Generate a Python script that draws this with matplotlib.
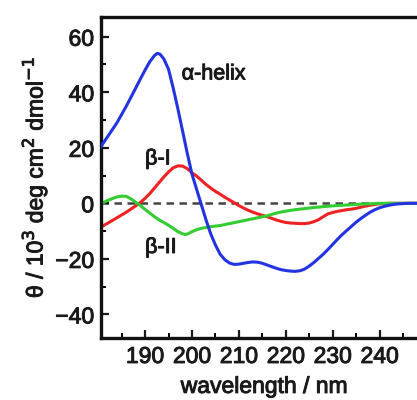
import matplotlib
matplotlib.use("Agg")
import matplotlib.pyplot as plt
import matplotlib.patheffects as pe
from matplotlib.ticker import MultipleLocator

plt.rcParams['font.family'] = ['Liberation Sans', 'DejaVu Sans']

# alpha-helix
wl_a = [180.6, 182, 184, 186, 188, 189, 190, 191, 192, 192.6, 193.2, 194, 195, 196, 197, 198, 199,
        200, 201, 202, 203, 204, 205, 206, 207, 208, 209, 210, 211, 212, 213, 214,
        215, 216, 217, 218, 219, 220, 221, 222, 223, 224, 225, 226, 227, 228, 229,
        230, 231, 232, 233, 234, 235, 236, 237, 238, 239, 240, 241, 242, 243, 244,
        246, 250]
cd_a = [20.5, 24, 29, 35, 41.5, 44.8, 48, 51, 53.2, 54, 53.7, 52, 48.3, 41.5, 34, 26, 18,
        10.5, 5, -0.5, -6, -11, -15, -18.3, -20.3, -21.5, -22, -21.9, -21.6, -21.3, -21.1, -21.2,
        -21.6, -22.2, -22.8, -23.4, -23.9, -24.2, -24.4, -24.5, -24.3, -23.7, -22.6, -21.3, -19.8, -18.3, -16.6,
        -14.8, -13, -11.3, -9.8, -8.3, -6.8, -5.5, -4.3, -3.2, -2.3, -1.6, -1.1, -0.7, -0.4, -0.2,
        0, 0]

# beta-I
wl_b1 = [180.6, 182, 184, 186, 188, 189, 190, 191, 192, 193, 194, 195, 196, 197, 198,
         199, 200, 201, 202, 203, 204, 205, 206, 207, 208, 209, 210, 211, 212, 213,
         214, 215, 216, 217, 218, 219, 220, 221, 222, 223, 224, 225, 226, 227, 228,
         229, 230, 231, 232, 233, 234, 235, 236, 237, 238, 239, 240, 242, 250]
cd_b1 = [-8.5, -7.2, -5.2, -3.2, -0.9, 0.3, 1.8, 3.5, 5.5, 7.5, 9.5, 11.3, 12.8, 13.5, 13.4,
         12.5, 11, 9.8, 8.3, 6.8, 5.5, 4.3, 3.3, 2.2, 1.2, 0.2, -0.8, -1.7, -2.5, -3.2,
         -3.8, -4.3, -4.8, -5.4, -6.0, -6.5, -6.9, -7.1, -7.2, -7.3, -7.3, -7.1, -6.6, -5.9, -4.8,
         -3.8, -3.3, -2.9, -2.6, -2.3, -2.1, -1.8, -1.4, -1.0, -0.7, -0.4, -0.2, 0, 0]

# beta-II
wl_b2 = [180.6, 181, 182, 183, 184, 185, 186, 187, 188, 189, 190, 191, 192, 193, 194,
         195, 196, 197, 198, 198.5, 199, 200, 201, 202, 203, 204, 206, 208, 210, 212,
         214, 216, 218, 220, 222, 224, 226, 228, 230, 232, 234, 236, 238, 240, 250]
cd_b2 = [-0.3, 0.2, 1.0, 1.7, 2.3, 2.6, 2.5, 1.6, 0.4, -0.8, -2.2, -3.5, -4.8, -6.0, -6.9,
         -7.9, -9.0, -10.2, -11.0, -11.2, -11.1, -10.2, -9.5, -9.0, -8.7, -8.4, -8.0, -7.3, -6.6, -5.9,
         -5.2, -4.5, -3.5, -2.8, -2.3, -1.9, -1.5, -1.2, -0.9, -0.7, -0.5, -0.3, -0.15, 0, 0]

labels = ["α-helix", "β-I", "β-II"]
label_pos = [(197.8, 46.6), (190.0, 16.0), (190.0, -15.9)]

TXT = '#1a1a1a'
thick = [pe.withStroke(linewidth=0.7, foreground=TXT)]

fig = plt.figure(figsize=(4.17, 4.0), dpi=100)
ax = fig.add_axes([0.2422, 0.155, 0.7827, 0.8025])

ax.axhline(0, color='#444444', lw=1.8, ls=(0, (3, 2.2)), zorder=1)
ax.plot(wl_a, cd_a, color='#2233e0', lw=2.2, zorder=3)
ax.plot(wl_b1, cd_b1, color='#ee2222', lw=2.2, zorder=2)
ax.plot(wl_b2, cd_b2, color='#33cc33', lw=2.2, zorder=2)

for t, (x, y) in zip(labels, label_pos):
    ax.text(x, y, t, fontsize=15.5, ha='left', va='center', color=TXT,
            path_effects=thick)

ax.set_xlim(180.6, 250.2)
ax.set_ylim(-48.5, 67.1)
ax.xaxis.set_major_locator(MultipleLocator(10))
ax.xaxis.set_minor_locator(MultipleLocator(5))
ax.yaxis.set_major_locator(MultipleLocator(20))
ax.yaxis.set_minor_locator(MultipleLocator(10))
ax.set_xticks([190, 200, 210, 220, 230, 240])

ax.tick_params(which='major', direction='in', length=6, width=1.6, labelsize=16.5,
               colors=TXT, pad=5)
ax.tick_params(which='minor', direction='in', length=3.5, width=1.4)
for lab in ax.get_xticklabels() + ax.get_yticklabels():
    lab.set_path_effects(thick)
for s in ax.spines.values():
    s.set_linewidth(2.4)
    s.set_color('#111111')

ax.set_xlabel("wavelength / nm", fontsize=16.5, labelpad=5, color=TXT,
              path_effects=thick)
ax.set_ylabel(r"θ / 10$^{3}$ deg cm$^{2}$ dmol$^{-1}$", fontsize=16.5, labelpad=4,
              color=TXT, path_effects=thick)

fig.savefig("out.png", dpi=100)
